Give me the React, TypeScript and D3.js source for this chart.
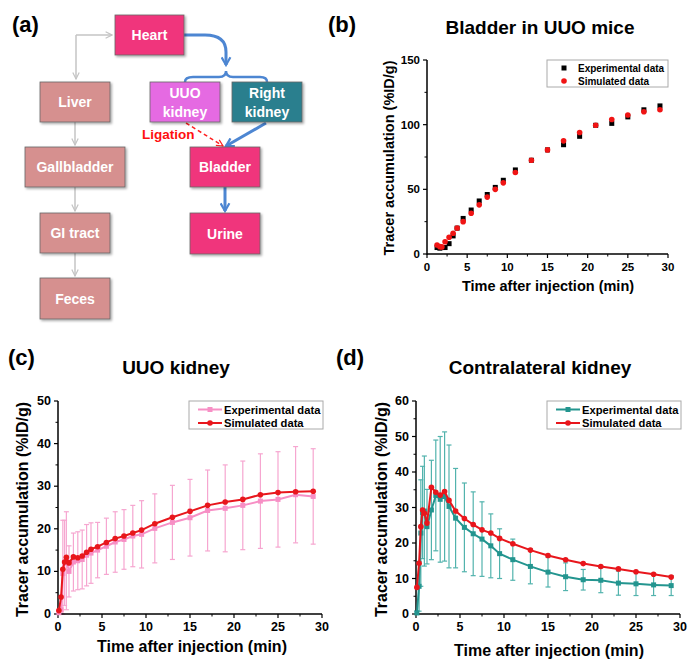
import * as React from 'react';
import * as d3 from 'd3';

const FONT = 'Liberation Sans, Arial, sans-serif';

// (b) bladder in UUO mice
const bladderTime = [1.25, 1.6, 1.85, 2.25, 2.75, 3.25, 3.75, 4.5, 5.5, 6.5, 7.5, 8.5, 9.5, 11, 13, 15, 17, 19, 21, 23, 25, 27, 29];
const bladderExp = [5, 4.5, 5, 5, 8, 14, 20, 27.5, 34, 41, 46, 51.5, 57, 65, 72.5, 80.5, 84.5, 91, 99.5, 101, 106, 111.5, 114.5];
const bladderSim = [7, 5.7, 5.5, 9.5, 13, 16, 20, 25, 31.5, 38, 44, 50, 55, 63, 72.5, 80.5, 87.5, 94, 99.5, 104, 107.5, 110, 111.5];

// (c) / (d) kidneys
const kidneyTime = [0.1, 0.35, 0.55, 0.75, 0.95, 1.25, 1.75, 2.25, 2.75, 3.25, 3.75, 4.5, 5.5, 6.5, 7.5, 8.5, 9.5, 11, 13, 15, 17, 19, 21, 23, 25, 27, 29];
const uuoExp = [0.3, 1, 9.5, 12, 12.5, 10, 12.2, 12.5, 12.8, 13.8, 14.3, 15, 15.9, 16.9, 17.5, 18.3, 18.7, 20.1, 21.5, 22.6, 24.3, 24.8, 25.5, 26.5, 26.9, 28, 27.6];
const uuoSd = [0.3, 1, 12.5, 10, 11.5, 6, 6.8, 6.8, 6.9, 7.2, 7.1, 6.5, 6.6, 7.1, 7, 7.2, 7.9, 8.1, 8.7, 9, 9.5, 10.2, 10.4, 11.1, 11.2, 11.3, 11.2];
const uuoSim = [0.8, 4, 10.5, 12.2, 13.3, 12, 13.4, 13.2, 13.6, 14.5, 15.2, 15.8, 16.8, 17.7, 18.3, 19, 19.7, 21.2, 22.7, 24.1, 25.5, 26.3, 26.9, 28, 28.5, 28.7, 28.8];
const contraExp = [0.3, 7.8, 22.8, 28.6, 29, 24.6, 29.3, 33.4, 32.3, 33.1, 30.3, 27, 24.4, 22.6, 21.1, 19.2, 17, 15.3, 13.4, 11.8, 10.5, 9.65, 9.5, 8.7, 8.5, 8.2, 8];
const contraSd = [0.5, 7, 15, 13, 15.5, 10.5, 14, 15.6, 17.7, 18.2, 17.3, 14, 12.5, 11.8, 10.5, 9, 7, 5.8, 4.9, 4.2, 3.9, 2.9, 3.5, 3.4, 3.3, 3, 2.8];
const contraSim = [7.5, 14.3, 24.6, 29.3, 28.4, 25.6, 35.7, 34.3, 33.5, 34.5, 32, 29, 26.9, 25.2, 23.7, 22.8, 21.3, 19.8, 18, 16.5, 15.3, 14.2, 13.4, 12.7, 11.9, 11.2, 10.4];

const xTicks = [0, 5, 10, 15, 20, 25, 30];
const legendLabels = ['Experimental data', 'Simulated data'];
const xTitle = 'Time after injection (min)';
const yTitle = 'Tracer accumulation (%ID/g)';

// (a) flow chart nodes
const flowNodes = [
  { id: 'heart', label: ['Heart'], fill: '#f0367b' },
  { id: 'liver', label: ['Liver'], fill: '#d6908f' },
  { id: 'gall', label: ['Gallbladder'], fill: '#d6908f' },
  { id: 'gi', label: ['GI tract'], fill: '#d6908f' },
  { id: 'feces', label: ['Feces'], fill: '#d6908f' },
  { id: 'uuo', label: ['UUO', 'kidney'], fill: '#e56be2' },
  { id: 'right', label: ['Right', 'kidney'], fill: '#2a7f8e' },
  { id: 'bladder', label: ['Bladder'], fill: '#f0367b' },
  { id: 'urine', label: ['Urine'], fill: '#f0367b' },
];
const nodeBox: Record<string, [number, number, number, number]> = {
  heart: [115, 15, 69, 40],
  liver: [40, 82, 70, 40],
  gall: [25, 147, 100, 40],
  gi: [40, 213, 70, 40],
  feces: [40, 278, 70, 41],
  uuo: [150, 82, 70, 40],
  right: [232, 82, 70, 40],
  bladder: [190, 147, 70, 40],
  urine: [190, 213, 70, 41],
};

function FlowChart() {
  const gray = '#c4c4c4';
  const blue = '#4d86d2';
  return (
    <g fontFamily={FONT}>
      <defs>
        <marker id="ag" viewBox="0 0 10 10" refX="9" refY="5" markerWidth="8" markerHeight="8" orient="auto" markerUnits="userSpaceOnUse">
          <path d="M1,1 L9,5 L1,9" fill="none" stroke={gray} strokeWidth={1.5} />
        </marker>
        <marker id="ab" viewBox="0 0 10 10" refX="8" refY="5" markerWidth="11" markerHeight="11" orient="auto" markerUnits="userSpaceOnUse">
          <path d="M1,1 L8,5 L1,9" fill="none" stroke={blue} strokeWidth={2} />
        </marker>
        <marker id="ar" viewBox="0 0 10 10" refX="9" refY="5" markerWidth="8" markerHeight="8" orient="auto" markerUnits="userSpaceOnUse">
          <path d="M1,1 L9,5 L1,9" fill="none" stroke="#ff2020" strokeWidth={1.5} />
        </marker>
        <filter id="sh" x="-10%" y="-10%" width="130%" height="130%">
          <feDropShadow dx="1.5" dy="1.5" stdDeviation="0.8" floodColor="#000" floodOpacity="0.35" />
        </filter>
      </defs>
      <text x={12} y={32} fontSize={22} fontWeight="bold">(a)</text>
      {/* gray pathway */}
      <path d="M76,35 L112,35" stroke={gray} strokeWidth={1.5} fill="none" markerEnd="url(#ag)" />
      <path d="M76,35 L76,79" stroke={gray} strokeWidth={1.5} fill="none" markerEnd="url(#ag)" />
      <path d="M75,122 L75,145" stroke={gray} strokeWidth={1.5} fill="none" markerEnd="url(#ag)" />
      <path d="M75,187 L75,211" stroke={gray} strokeWidth={1.5} fill="none" markerEnd="url(#ag)" />
      <path d="M75,253 L75,276" stroke={gray} strokeWidth={1.5} fill="none" markerEnd="url(#ag)" />
      {/* blue pathway */}
      <path d="M184,35 L205,35 Q226,35 226,52 L226,65" stroke={blue} strokeWidth={3} fill="none" markerEnd="url(#ab)" />
      <path d="M185,82 Q185,77 193,77 L219,77 Q226,77 226,71 Q226,77 233,77 L260,77 Q267,77 267,82" stroke={blue} strokeWidth={2.5} fill="none" />
      <path d="M266,123 L226,146" stroke={blue} strokeWidth={3} fill="none" markerEnd="url(#ab)" />
      <path d="M225,187 L225,211" stroke={blue} strokeWidth={3} fill="none" markerEnd="url(#ab)" />
      <path d="M186,123 L223,146" stroke="#ff2020" strokeWidth={1.5} strokeDasharray="4,3" fill="none" markerEnd="url(#ar)" />
      <text x={142} y={139} fontSize={13.5} fontWeight="bold" fill="#ff1010">Ligation</text>
      {flowNodes.map(n => {
        const [x, y, w, h] = nodeBox[n.id];
        const cy = y + h / 2;
        return (
          <g key={n.id}>
            <rect x={x} y={y} width={w} height={h} fill={n.fill} stroke="#666" strokeWidth={0.8} filter="url(#sh)" />
            {n.label.map((l, i) => (
              <text key={i} x={x + w / 2} y={cy + 5 + (i - (n.label.length - 1) / 2) * 19} textAnchor="middle" fontSize={14} fontWeight="bold" fill="#fff">{l}</text>
            ))}
          </g>
        );
      })}
    </g>
  );
}

function Axes({ x, y, yMajor, yMinor, tickFont, yLabelGap }: any) {
  const [x0, x1] = x.range();
  const [yb, yt] = y.range();
  const xMinor = xTicks.slice(0, -1).map((t: number) => t + 2.5);
  return (
    <g fontFamily={FONT} fontWeight="bold" fontSize={tickFont}>
      <line x1={x0} x2={x1} y1={yb} y2={yb} stroke="#000" strokeWidth={1.5} />
      <line x1={x0} x2={x0} y1={yb + 0.75} y2={yt} stroke="#000" strokeWidth={1.5} />
      {xTicks.map(t => (
        <g key={'x' + t}>
          <line x1={x(t)} x2={x(t)} y1={yb} y2={yb + 4} stroke="#000" strokeWidth={1.2} />
          <text x={x(t)} y={yb + 17} textAnchor="middle">{t}</text>
        </g>
      ))}
      {xMinor.map((t: number) => (
        <line key={'xm' + t} x1={x(t)} x2={x(t)} y1={yb} y2={yb + 2.5} stroke="#000" strokeWidth={1} />
      ))}
      {yMajor.map((t: number) => (
        <g key={'y' + t}>
          <line x1={x0} x2={x0 - 4} y1={y(t)} y2={y(t)} stroke="#000" strokeWidth={1.2} />
          <text x={x0 - yLabelGap} y={y(t) + 4} textAnchor="end">{t}</text>
        </g>
      ))}
      {yMinor.map((t: number) => (
        <line key={'ym' + t} x1={x0} x2={x0 - 2.5} y1={y(t)} y2={y(t)} stroke="#000" strokeWidth={1} />
      ))}
    </g>
  );
}

function BladderPanel() {
  const x = d3.scaleLinear().domain([0, 30]).range([427, 668]);
  const y = d3.scaleLinear().domain([0, 150]).range([254, 60]);
  return (
    <g fontFamily={FONT}>
      <text x={328} y={32} fontSize={22} fontWeight="bold">(b)</text>
      <text x={540} y={34} fontSize={19} fontWeight="bold" textAnchor="middle">Bladder in UUO mice</text>
      <Axes x={x} y={y} yMajor={[0, 50, 100, 150]} yMinor={[25, 75, 125]} tickFont={11.5} yLabelGap={7} />
      <text x={548} y={291} fontSize={14.5} fontWeight="bold" textAnchor="middle">{xTitle}</text>
      <text transform="translate(394,158) rotate(-90)" fontSize={14.5} fontWeight="bold" textAnchor="middle">{yTitle}</text>
      {bladderTime.map((t, i) => (
        <rect key={'e' + i} x={x(t) - 2.5} y={y(bladderExp[i]) - 2.5} width={5} height={5} fill="#000" />
      ))}
      {bladderTime.map((t, i) => (
        <circle key={'s' + i} cx={x(t)} cy={y(bladderSim[i])} r={2.8} fill="#f01414" />
      ))}
      <rect x={547} y={60} width={121} height={27} fill="#fff" stroke="#aaa" strokeWidth={1} />
      <rect x={561.5} y={65.5} width={5} height={5} fill="#000" />
      <circle cx={564} cy={81} r={2.8} fill="#f01414" />
      <text x={578} y={72} fontSize={10} fontWeight="bold">{legendLabels[0]}</text>
      <text x={578} y={85} fontSize={10} fontWeight="bold">{legendLabels[1]}</text>
    </g>
  );
}

function KidneyPanel({ label, labelX, title, titleX, x, y, yMajor, yMinor, exp, sd, sim, expColor, barColor, yTitleX, xTitleX, xTitleY, legendX }: any) {
  const simColor = '#e8161c';
  const [, x1] = x.range();
  const [yb, yt] = y.range();
  const line = d3.line<number>().x((_, i) => x(kidneyTime[i])).y(d => y(d));
  return (
    <g fontFamily={FONT}>
      <text x={labelX} y={365} fontSize={22} fontWeight="bold">{label}</text>
      <text x={titleX} y={374} fontSize={19} fontWeight="bold" textAnchor="middle">{title}</text>
      {kidneyTime.map((t, i) => {
        const hi = y(exp[i] + sd[i]);
        const lo = y(Math.max(0, exp[i] - sd[i]));
        return (
          <g key={'eb' + i} stroke={barColor} strokeWidth={1.2}>
            <line x1={x(t)} x2={x(t)} y1={hi} y2={lo} />
            <line x1={x(t) - 2.5} x2={x(t) + 2.5} y1={hi} y2={hi} />
            <line x1={x(t) - 2.5} x2={x(t) + 2.5} y1={lo} y2={lo} />
          </g>
        );
      })}
      <Axes x={x} y={y} yMajor={yMajor} yMinor={yMinor} tickFont={12.5} yLabelGap={7} />
      <path d={line(exp) || ''} fill="none" stroke={expColor} strokeWidth={2} />
      {kidneyTime.map((t, i) => (
        <rect key={'e' + i} x={x(t) - 2.5} y={y(exp[i]) - 2.5} width={5} height={5} fill={expColor} />
      ))}
      <path d={line(sim) || ''} fill="none" stroke={simColor} strokeWidth={2} />
      {kidneyTime.map((t, i) => (
        <circle key={'s' + i} cx={x(t)} cy={y(sim[i])} r={2.8} fill={simColor} />
      ))}
      <text x={xTitleX} y={xTitleY} fontSize={16} fontWeight="bold" textAnchor="middle">{xTitle}</text>
      <text transform={`translate(${yTitleX},${(yb + yt) / 2 + 2}) rotate(-90)`} fontSize={16} fontWeight="bold" textAnchor="middle">{yTitle}</text>
      <rect x={legendX} y={yt} width={x1 + 1 - legendX} height={28} fill="#fff" stroke="#aaa" strokeWidth={1} />
      <line x1={legendX + 9} x2={legendX + 33} y1={yt + 8.5} y2={yt + 8.5} stroke={expColor} strokeWidth={2} />
      <rect x={legendX + 18.5} y={yt + 6} width={5} height={5} fill={expColor} />
      <line x1={legendX + 9} x2={legendX + 33} y1={yt + 22} y2={yt + 22} stroke={simColor} strokeWidth={2} />
      <circle cx={legendX + 21} cy={yt + 22} r={2.8} fill={simColor} />
      <text x={legendX + 35} y={yt + 12.5} fontSize={11.2} fontWeight="bold">{legendLabels[0]}</text>
      <text x={legendX + 35} y={yt + 26} fontSize={11.2} fontWeight="bold">{legendLabels[1]}</text>
    </g>
  );
}

export default function App() {
  const xc = d3.scaleLinear().domain([0, 30]).range([58, 322]);
  const yc = d3.scaleLinear().domain([0, 50]).range([614, 401]);
  const xd = d3.scaleLinear().domain([0, 30]).range([416, 680]);
  const yd = d3.scaleLinear().domain([0, 60]).range([614, 401]);
  return (
    <>
      <style>{'body{margin:0}'}</style>
      <svg width={689} height={661} style={{ display: 'block', background: '#fff' }}>
        <FlowChart />
        <BladderPanel />
        <KidneyPanel label="(c)" labelX={8} title="UUO kidney" titleX={176} x={xc} y={yc}
          yMajor={[0, 10, 20, 30, 40, 50]} yMinor={[5, 15, 25, 35, 45]}
          exp={uuoExp} sd={uuoSd} sim={uuoSim} expColor="#f78fc5" barColor="#f6a6d0"
          yTitleX={28} xTitleX={192} xTitleY={652} legendX={189} />
        <KidneyPanel label="(d)" labelX={336} title="Contralateral kidney" titleX={540} x={xd} y={yd}
          yMajor={[0, 10, 20, 30, 40, 50, 60]} yMinor={[5, 15, 25, 35, 45, 55]}
          exp={contraExp} sd={contraSd} sim={contraSim} expColor="#23958f" barColor="#52b3ad"
          yTitleX={387} xTitleX={549} xTitleY={656} legendX={547} />
      </svg>
    </>
  );
}
